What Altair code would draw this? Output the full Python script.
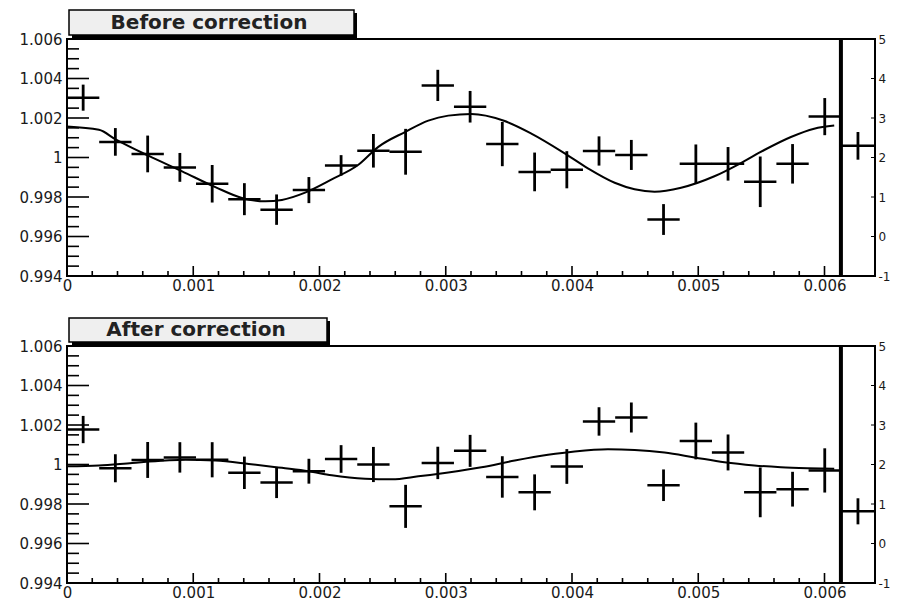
import altair as alt
import pandas as pd

# ---------------- data ----------------
bin_centers = [0.000128, 0.000383, 0.000639, 0.000894, 0.001150, 0.001405,
               0.001660, 0.001916, 0.002171, 0.002427, 0.002682, 0.002937,
               0.003193, 0.003448, 0.003704, 0.003959, 0.004214, 0.004470,
               0.004725, 0.004981, 0.005236, 0.005491, 0.005747, 0.006002]
bin_half_width = 0.000128

before_y = [1.00303, 1.00079, 1.00018, 0.99950, 0.99867, 0.99789, 0.99736, 0.99835,
            0.99960, 1.00034, 1.00029, 1.00365, 1.00257, 1.00068, 0.99927, 0.99938,
            1.00033, 1.00013, 0.99686, 0.99968, 0.99968, 0.99877, 0.99968, 1.00207]
before_err = [0.00066, 0.00070, 0.00093, 0.00073, 0.00095, 0.00081, 0.00077, 0.00066,
              0.00052, 0.00085, 0.00116, 0.00079, 0.00080, 0.00112, 0.00098, 0.00094,
              0.00074, 0.00076, 0.00078, 0.00098, 0.00085, 0.00128, 0.00100, 0.00094]

after_y = [1.00177, 0.99981, 1.00023, 1.00036, 1.00024, 0.99958, 0.99909, 0.99966,
           1.00028, 1.00000, 0.99788, 1.00008, 1.00069, 0.99937, 0.99859, 0.99990,
           1.00218, 1.00238, 0.99895, 1.00119, 1.00061, 0.99859, 0.99875, 0.99970]
after_err = [0.00069, 0.00071, 0.00091, 0.00077, 0.00089, 0.00082, 0.00079, 0.00063,
             0.00070, 0.00089, 0.00109, 0.00082, 0.00081, 0.00105, 0.00091, 0.00088,
             0.00072, 0.00076, 0.00080, 0.00093, 0.00091, 0.00126, 0.00088, 0.00112]

before_fit_x = [0.0, 0.000253, 0.000385, 0.000648, 0.000912, 0.001175, 0.001386, 0.00157,
                0.001702, 0.001886, 0.002097, 0.002308, 0.002466, 0.002677, 0.002862, 0.00302,
                0.003204, 0.003455, 0.003678, 0.003942, 0.004126, 0.004338, 0.004496, 0.004654,
                0.004864, 0.005128, 0.005338, 0.005523, 0.005734, 0.005918, 0.006077]
before_fit_y = [1.00157, 1.00140, 1.00092, 1.00008, 0.99930, 0.99850, 0.99795, 0.99778,
                0.99785, 0.99822, 0.99889, 0.99963, 1.00054, 1.00129, 1.00187, 1.00212,
                1.00220, 1.00187, 1.00121, 1.00021, 0.99945, 0.99872, 0.99839, 0.99827,
                0.99847, 0.99905, 0.99972, 1.00038, 1.00104, 1.00146, 1.00162]

after_fit_x = [0.0, 0.000253, 0.000516, 0.00078, 0.000938, 0.001175, 0.00144, 0.001702,
               0.001913, 0.002097, 0.002361, 0.002572, 0.002783, 0.00302, 0.003283, 0.003547,
               0.00381, 0.004021, 0.004285, 0.004496, 0.004733, 0.00497, 0.005207, 0.005444,
               0.005655, 0.005866, 0.006077]
after_fit_y = [0.99991, 0.99995, 1.00008, 1.00020, 1.00024, 1.00020, 1.00003, 0.99983,
               0.99966, 0.99945, 0.99928, 0.99925, 0.99940, 0.99960, 0.99986, 1.00020,
               1.00049, 1.00066, 1.00077, 1.00074, 1.00061, 1.00036, 1.00011, 0.99995,
               0.99986, 0.99981, 0.99978]

overflow_edges = [0.00613, 0.0064]
overflow_center = 0.006265
before_overflow = [1.00059, 0.00070]
after_overflow = [0.99763, 0.00066]
divider_x = [0.00613]

x_domain = [0.0, 0.0064]
y_domain = [0.994, 1.006]
x_major = [0.0, 0.001, 0.002, 0.003, 0.004, 0.005, 0.006]
x_minor = [0.0002, 0.0004, 0.0006, 0.0008, 0.0012, 0.0014, 0.0016, 0.0018,
           0.0022, 0.0024, 0.0026, 0.0028, 0.0032, 0.0034, 0.0036, 0.0038,
           0.0042, 0.0044, 0.0046, 0.0048, 0.0052, 0.0054, 0.0056, 0.0058]
y_major = [0.994, 0.996, 0.998, 1.0, 1.002, 1.004, 1.006]
y_minor = [0.9945, 0.995, 0.9955, 0.9965, 0.997, 0.9975, 0.9985, 0.999, 0.9995,
           1.0005, 1.001, 1.0015, 1.0025, 1.003, 1.0035, 1.0045, 1.005, 1.0055]
titles = ["Before correction", "After correction"]

# ---------------- styling ----------------
W, H = 808, 237
FONT = "DejaVu Sans"
INK = "black"


def panel(title, ys, errs, fit_x, fit_y, over, box_right, text_x, box_top):
    xs = alt.Scale(domain=x_domain, nice=False, zero=False)
    ysc = alt.Scale(domain=y_domain, nice=False, zero=False)

    df = pd.DataFrame({"x": bin_centers, "y": ys, "e": errs})
    df["x1"] = df["x"] - bin_half_width
    df["x2"] = df["x"] + bin_half_width
    df["y1"] = df["y"] - df["e"]
    df["y2"] = df["y"] + df["e"]

    odf = pd.DataFrame({"x": [overflow_center], "x1": [overflow_edges[0]],
                        "x2": [overflow_edges[1]], "y": [over[0]],
                        "y1": [over[0] - over[1]], "y2": [over[0] + over[1]]})
    fdf = pd.DataFrame({"x": fit_x, "y": fit_y})

    X = lambda f: alt.X(f, scale=xs, axis=None, title=None)
    Y = lambda f: alt.Y(f, scale=ysc, axis=None, title=None)

    left_axis = alt.Axis(orient="left", values=y_major, format="~g", ticks=False,
                         domain=False, grid=False, labelFont=FONT, labelFontSize=15,
                         labelColor="#1a1a1a", labelPadding=5, labelOverlap=False)
    right_axis = alt.Axis(orient="right", values=y_major,
                          labelExpr="'' + round((datum.value - 1) * 500 + 2)",
                          ticks=False, domain=False, grid=False, labelFont=FONT,
                          labelFontSize=12, labelColor="#1a1a1a", labelPadding=3,
                          labelOverlap=False)
    bottom_axis = alt.Axis(orient="bottom", values=x_major, format="~g", ticks=False,
                           domain=False, grid=False, labelFont=FONT, labelFontSize=15,
                           labelColor="#1a1a1a", labelPadding=2, labelFlush=False,
                           labelOverlap=False)

    # the fit curve carries the bottom and left axes
    fit = alt.Chart(fdf).mark_line(color=INK, strokeWidth=2, interpolate="monotone").encode(
        x=alt.X("x:Q", scale=xs, axis=bottom_axis, title=None),
        y=alt.Y("y:Q", scale=ysc, axis=left_axis, title=None))

    # inward ticks (ROOT style)
    lmaj = alt.Chart(pd.DataFrame({"v": y_major})).mark_rule(color=INK, strokeWidth=1.6).encode(
        y=Y("v:Q"), x=alt.value(0), x2=alt.value(22))
    lmin = alt.Chart(pd.DataFrame({"v": y_minor})).mark_rule(color=INK, strokeWidth=1.6).encode(
        y=Y("v:Q"), x=alt.value(0), x2=alt.value(12))
    rtk = alt.Chart(pd.DataFrame({"v": y_major})).mark_rule(color=INK, strokeWidth=1).encode(
        y=alt.Y("v:Q", scale=ysc, axis=right_axis, title=None),
        x=alt.value(W - 4), x2=alt.value(W))
    bmaj = alt.Chart(pd.DataFrame({"v": x_major})).mark_rule(color=INK, strokeWidth=1.6).encode(
        x=X("v:Q"), y=alt.value(H), y2=alt.value(H - 10))
    bmin = alt.Chart(pd.DataFrame({"v": x_minor})).mark_rule(color=INK, strokeWidth=1.6).encode(
        x=X("v:Q"), y=alt.value(H), y2=alt.value(H - 5))

    divider = alt.Chart(pd.DataFrame({"x": divider_x})).mark_rule(color=INK, strokeWidth=4).encode(
        x=X("x:Q"))

    hbar = alt.Chart(df).mark_rule(color=INK, strokeWidth=2.5).encode(
        x=X("x1:Q"), x2="x2:Q", y=Y("y:Q"))
    vbar = alt.Chart(df).mark_rule(color=INK, strokeWidth=2.8).encode(
        x=X("x:Q"), y=Y("y1:Q"), y2="y2:Q")
    ohbar = alt.Chart(odf).mark_rule(color=INK, strokeWidth=2.5).encode(
        x=X("x1:Q"), x2="x2:Q", y=Y("y:Q"))
    ovbar = alt.Chart(odf).mark_rule(color=INK, strokeWidth=2.8).encode(
        x=X("x:Q"), y=Y("y1:Q"), y2="y2:Q")

    tdf = pd.DataFrame({"t": [title]})
    shadow = alt.Chart(tdf).mark_rect(fill="black").encode(
        x=alt.value(5), x2=alt.value(box_right + 3),
        y=alt.value(box_top + 3), y2=alt.value(-1))
    box = alt.Chart(tdf).mark_rect(fill="#efefef", stroke="black", strokeWidth=1.5).encode(
        x=alt.value(2), x2=alt.value(box_right),
        y=alt.value(box_top), y2=alt.value(-4))
    txt = alt.Chart(tdf).mark_text(font=FONT, fontSize=20, fontWeight="bold",
                                   color="#222", baseline="middle", align="center").encode(
        x=alt.value(text_x), y=alt.value((box_top - 4) / 2), text="t:N")

    return alt.layer(fit, lmaj, lmin, rtk, bmaj, bmin, divider, hbar, vbar, ohbar, ovbar,
                     shadow, box, txt).resolve_axis(
        x="independent", y="independent").properties(width=W, height=H)


top = panel(titles[0], before_y, before_err, before_fit_x, before_fit_y, before_overflow,
            287, 142, -29)
bottom = panel(titles[1], after_y, after_err, after_fit_x, after_fit_y, after_overflow,
               260, 129, -28)

chart = alt.vconcat(top, bottom, spacing=70, bounds="flush").properties(
    padding={"left": 10, "top": 0, "right": 0, "bottom": 0}
).configure(background="white").configure_view(stroke="black", strokeWidth=2)

chart.save("out.html", embed_options={"renderer": "svg", "actions": False})
